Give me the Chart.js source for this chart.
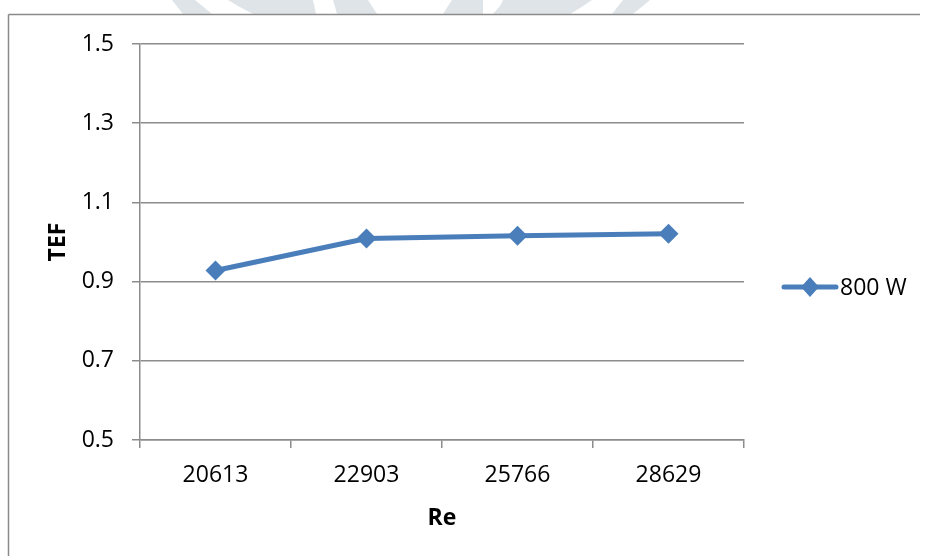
<!DOCTYPE html>
<html>
<head>
<meta charset="utf-8">
<title>TEF vs Re</title>
<script src="https://cdn.jsdelivr.net/npm/chart.js@4.4.0/dist/chart.umd.min.js"></script>
<style>
  html, body { margin: 0; padding: 0; background: #fff; overflow: hidden; }
  #wrap { width: 925px; height: 556px; }
  canvas { display: block; }
</style>
</head>
<body>
<div id="wrap"><canvas id="tefChart" width="925" height="556"></canvas></div>
<script>
// Reynolds numbers on the x axis, TEF at 800 W
var reLabels = ['20613', '22903', '25766', '28629'];
var tef800 = [0.928, 1.009, 1.016, 1.021];
var seriesName = '800 W';

var lineBlue = '#4a7ebb';
var gridGrey = '#8c8c8c';
var fontFam = '"Open Sans", "Liberation Sans", sans-serif';

// faint shapes along the top edge plus the frame around the chart
var framePlugin = {
    id: 'frame',
    beforeDraw: function (chart) {
        var ctx = chart.ctx;
        ctx.save();
        ctx.fillStyle = '#fff';
        ctx.fillRect(0, 0, 925, 556);
        ctx.fillStyle = '#dfe4e8';
        var shapes = [
            [[172, 0], [195, 0], [212, 14], [183, 14]],
            [[228, 0], [313, 0], [316, 14], [253, 14], [238, 6]],
            [[333, 0], [368, 0], [377, 14], [337, 14]],
            [[452, 0], [483, 0], [483, 14], [443, 14]],
            [[503, 0], [592, 0], [580, 8], [570, 14], [493, 14], [500, 6]],
            [[623, 0], [650, 0], [633, 14], [612, 14]]
        ];
        shapes.forEach(function (s) {
            ctx.beginPath();
            ctx.moveTo(s[0][0], s[0][1]);
            for (var i = 1; i < s.length; i++) ctx.lineTo(s[i][0], s[i][1]);
            ctx.closePath();
            ctx.fill();
        });
        ctx.fillStyle = '#fff';
        ctx.fillRect(8, 14, 925, 556);
        // left and top edges of the frame, each its own stroke
        ctx.strokeStyle = '#8a8a8a';
        ctx.lineWidth = 1.5;
        ctx.beginPath();
        ctx.moveTo(8.5, 556);
        ctx.lineTo(8.5, 14.5);
        ctx.stroke();
        ctx.beginPath();
        ctx.moveTo(8.5, 14.5);
        ctx.lineTo(920, 14.5);
        ctx.stroke();
        ctx.restore();
    },
    afterDraw: function (chart) {
        // legend: line with a diamond marker and the series name
        var ctx = chart.ctx;
        var y = 287;
        ctx.save();
        ctx.strokeStyle = lineBlue;
        ctx.lineWidth = 5;
        ctx.lineCap = 'round';
        ctx.beginPath();
        ctx.moveTo(784, y);
        ctx.lineTo(836, y);
        ctx.stroke();
        ctx.fillStyle = lineBlue;
        ctx.beginPath();
        ctx.moveTo(810, y - 10);
        ctx.lineTo(819, y);
        ctx.lineTo(810, y + 10);
        ctx.lineTo(801, y);
        ctx.closePath();
        ctx.fill();
        ctx.fillStyle = '#000';
        ctx.font = '23px ' + fontFam;
        ctx.textBaseline = 'middle';
        ctx.textAlign = 'left';
        ctx.fillText(seriesName, 840, y + 1);
        ctx.restore();
    }
};

var config = {
    type: 'line',
    data: {
        labels: reLabels,
        datasets: [{
            label: seriesName,
            data: tef800,
            borderColor: lineBlue,
            backgroundColor: lineBlue,
            borderWidth: 5,
            tension: 0,
            pointStyle: 'rectRot',
            pointRadius: 10,
            pointHoverRadius: 10,
            pointBorderWidth: 0,
            pointBackgroundColor: lineBlue
        }]
    },
    options: {
        responsive: false,
        animation: false,
        layout: { padding: { left: 0, top: 44, right: 181, bottom: 24 } },
        plugins: {
            legend: { display: false },
            tooltip: { enabled: false }
        },
        scales: {
            x: {
                offset: true,
                grid: {
                    offset: true,
                    drawOnChartArea: false,
                    drawTicks: true,
                    tickLength: 8,
                    color: gridGrey,
                    lineWidth: 1.5
                },
                border: { color: gridGrey, width: 1.5 },
                ticks: {
                    color: '#000',
                    padding: 14,
                    maxRotation: 0,
                    font: { family: fontFam, size: 23 }
                },
                title: {
                    display: true,
                    text: 'Re',
                    color: '#000',
                    padding: { top: 0, bottom: 0 },
                    font: { family: fontFam, size: 23, weight: 'bold' }
                },
                afterFit: function (scale) { scale.height = 92; }
            },
            y: {
                min: 0.5,
                max: 1.5,
                grid: {
                    color: gridGrey,
                    lineWidth: 1.5,
                    tickLength: 8
                },
                border: { color: gridGrey, width: 1.5 },
                ticks: {
                    stepSize: 0.2,
                    color: '#000',
                    padding: 18,
                    font: { family: fontFam, size: 23 },
                    callback: function (v) { return Number(v).toFixed(1); }
                },
                title: {
                    display: true,
                    text: 'TEF',
                    color: '#000',
                    padding: { top: 45, bottom: 0 },
                    font: { family: fontFam, size: 23, weight: 'bold' }
                },
                afterFit: function (scale) { scale.width = 140; }
            }
        }
    },
    plugins: [framePlugin]
};

var ctx = document.getElementById('tefChart').getContext('2d');
window.tefChart = new Chart(ctx, config);
</script>
</body>
</html>
